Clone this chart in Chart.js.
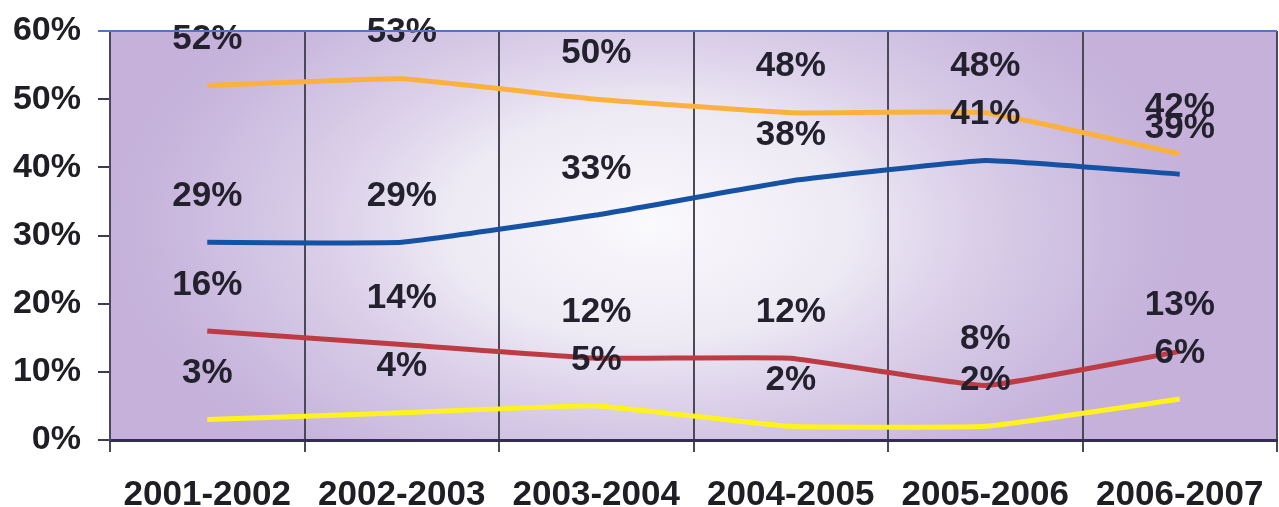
<!DOCTYPE html>
<html>
<head>
<meta charset="utf-8">
<script src="https://cdn.jsdelivr.net/npm/chart.js@4.4.0/dist/chart.umd.min.js"></script>
<style>
  html, body { margin:0; padding:0; background:#fff; }
  #wrap { width:1279px; height:507px; }
</style>
</head>
<body>
<div id="wrap"><canvas id="c" width="1279" height="507"></canvas></div>
<script>
// values (percent)
const seasons = ['2001-2002','2002-2003','2003-2004','2004-2005','2005-2006','2006-2007'];
const orangeVals = [52,53,50,48,48,42];
const blueVals   = [29,29,33,38,41,39];
const redVals    = [16,14,12,12,8,13];
const yellowVals = [3,4,5,2,2,6];
const yTicks = [0,10,20,30,40,50,60];

const FONT = '"Liberation Sans", Arial, sans-serif';

// purple backdrop with a whitish glow in the middle
const backdrop = {
  id:'backdrop',
  beforeDraw(chart){
    const {ctx, chartArea:a} = chart;
    ctx.save();
    ctx.beginPath();
    ctx.rect(a.left, a.top, a.right-a.left, a.bottom-a.top);
    ctx.clip();
    ctx.fillStyle = '#c5b1da';
    ctx.fillRect(a.left, a.top, a.right-a.left, a.bottom-a.top);
    const cx = 650, cy = 225;
    ctx.translate(cx, cy);
    ctx.scale(1.75, 1);
    const g = ctx.createRadialGradient(0,0,0,0,0,330);
    g.addColorStop(0,'rgba(250,249,252,1)');
    g.addColorStop(0.35,'rgba(240,237,246,0.95)');
    g.addColorStop(0.75,'rgba(214,202,231,0.55)');
    g.addColorStop(1,'rgba(197,177,218,0)');
    ctx.fillStyle = g;
    ctx.fillRect(-400,-300,800,600);
    ctx.restore();
  },
  afterDraw(chart){
    // blue-ish top frame line
    const {ctx, chartArea:a} = chart;
    ctx.save();
    ctx.strokeStyle = '#4f78bf';
    ctx.lineWidth = 2;
    ctx.beginPath();
    ctx.moveTo(a.left-12, a.top);
    ctx.lineTo(a.right, a.top);
    ctx.stroke();
    ctx.restore();
  }
};

// value labels floating above each point
const valueLabels = {
  id:'valueLabels',
  afterDatasetsDraw(chart){
    const ctx = chart.ctx;
    ctx.save();
    ctx.font = 'bold 35px ' + FONT;
    ctx.fillStyle = '#24212e';
    ctx.textAlign = 'center';
    ctx.textBaseline = 'middle';
    chart.data.datasets.forEach((ds, di)=>{
      chart.getDatasetMeta(di).data.forEach((pt, i)=>{
        ctx.fillText(ds.data[i] + '%', pt.x, pt.y - 46);
      });
    });
    ctx.restore();
  }
};

const line = (data, color)=>({data, borderColor:color, borderWidth:5, pointRadius:0, tension:0.1, fill:false});

new Chart(document.getElementById('c'), {
  type:'line',
  data:{
    labels: seasons,
    datasets:[
      line(orangeVals,'#fbb13c'),
      line(blueVals,'#1552a3'),
      line(redVals,'#bd3b42'),
      line(yellowVals,'#fff21f')
    ]
  },
  options:{
    responsive:false,
    animation:false,
    layout:{padding:{top:31, right:2, left:0, bottom:0}},
    plugins:{legend:{display:false}, tooltip:{enabled:false}},
    scales:{
      x:{
        offset:true,
        grid:{offset:true, color:'#4b4858', lineWidth:2, tickLength:12, drawOnChartArea:true},
        border:{color:'#362d55', width:3},
        ticks:{color:'#1e1e24', font:{family:FONT, size:35, weight:'bold'}, padding:22, maxRotation:0},
        afterFit(s){ s.height = 67; s.paddingLeft = 0; s.paddingRight = 0; }
      },
      y:{
        min:0, max:60,
        afterBuildTicks(s){ s.ticks = yTicks.map(v=>({value:v})); },
        grid:{drawOnChartArea:false, color:'#3d3a55', lineWidth:2, tickLength:12},
        border:{color:'#4a4560', width:2},
        ticks:{color:'#1e1e24', font:{family:FONT, size:34, weight:'bold'}, padding:17, callback:v=>v+'%'},
        afterFit(s){ s.width = 110; s.paddingTop = 0; s.paddingBottom = 0; }
      }
    }
  },
  plugins:[backdrop, valueLabels]
});
</script>
</body>
</html>
